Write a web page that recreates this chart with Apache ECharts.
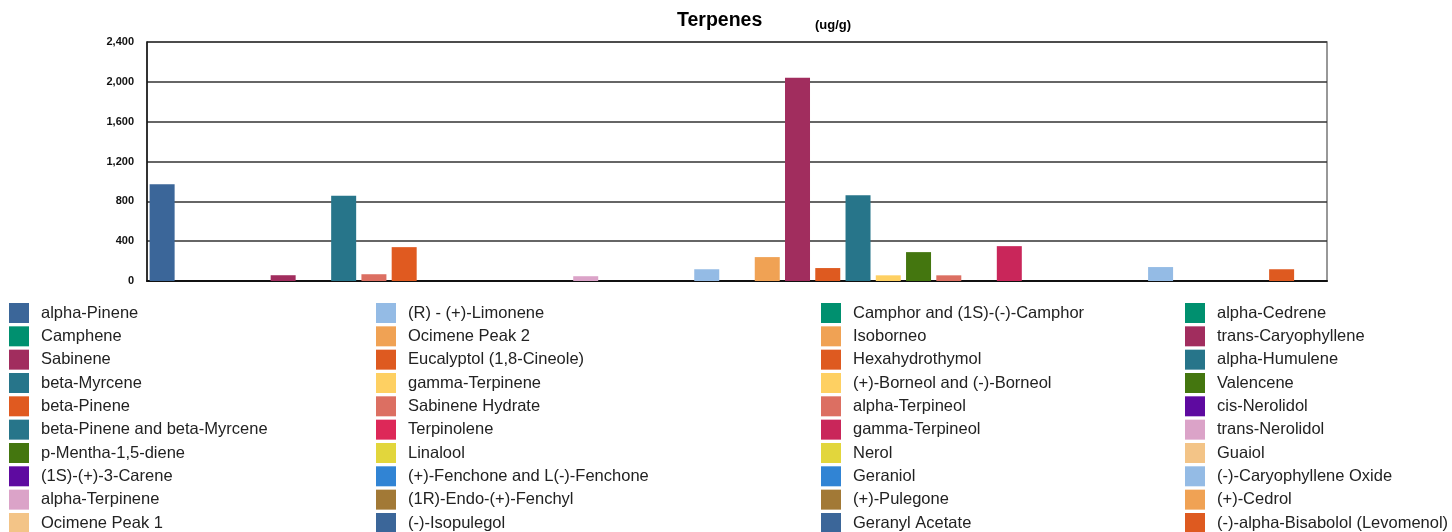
<!DOCTYPE html>
<html>
<head>
<meta charset="utf-8">
<title>Terpenes</title>
<script src="https://cdn.jsdelivr.net/npm/echarts@6/dist/echarts.min.js"></script>
<style>
    html, body { margin: 0; padding: 0; background: #fff; }
    #chart { width: 1452px; height: 532px; }
</style>
</head>
<body>
<div id="chart"></div>
<script>
// x-axis order of the bars (one slot per compound, labels hidden)
const categories = [
    'alpha-Pinene', 'Camphene', 'Eucalyptol (1,8-Cineole)', 'gamma-Terpinene', 'Sabinene',
    'p-Mentha-1,5-diene', 'beta-Myrcene', 'Sabinene Hydrate', 'beta-Pinene', 'Terpinolene',
    '(1S)-(+)-3-Carene', 'Linalool', 'Ocimene Peak 1', '(+)-Fenchone and L(-)-Fenchone', 'alpha-Terpinene',
    '(1R)-Endo-(+)-Fenchyl', 'Ocimene Peak 2', '(-)-Isopulegol', '(R) - (+)-Limonene', 'Camphor and (1S)-(-)-Camphor',
    'Isoborneo', 'trans-Caryophyllene', 'Hexahydrothymol', 'alpha-Humulene', '(+)-Borneol and (-)-Borneol',
    'Valencene', 'alpha-Terpineol', 'cis-Nerolidol', 'gamma-Terpineol', 'trans-Nerolidol',
    'Nerol', 'Guaiol', 'Geraniol', '(-)-Caryophyllene Oxide', '(+)-Pulegone',
    '(+)-Cedrol', 'Geranyl Acetate', '(-)-alpha-Bisabolol (Levomenol)', 'alpha-Cedrene'
];

// ug/g, same order as categories
const values = [
    972, 0, 0, 0, 58,
    0, 855, 68, 340, 0,
    0, 0, 0, 0, 48,
    0, 0, 0, 118, 0,
    240, 2040, 130, 862, 57,
    290, 57, 0, 350, 0,
    0, 0, 0, 140, 0,
    0, 0, 118, 0
];

const yTicks = [0, 400, 800, 1200, 1600, 2000, 2400];

// legend, column by column
const legendCol1 = ['alpha-Pinene', 'Camphene', 'Sabinene', 'beta-Myrcene', 'beta-Pinene',
    'beta-Pinene and beta-Myrcene', 'p-Mentha-1,5-diene', '(1S)-(+)-3-Carene', 'alpha-Terpinene', 'Ocimene Peak 1'];
const legendCol2 = ['(R) - (+)-Limonene', 'Ocimene Peak 2', 'Eucalyptol (1,8-Cineole)', 'gamma-Terpinene', 'Sabinene Hydrate',
    'Terpinolene', 'Linalool', '(+)-Fenchone and L(-)-Fenchone', '(1R)-Endo-(+)-Fenchyl', '(-)-Isopulegol'];
const legendCol3 = ['Camphor and (1S)-(-)-Camphor', 'Isoborneo', 'Hexahydrothymol', '(+)-Borneol and (-)-Borneol', 'alpha-Terpineol',
    'gamma-Terpineol', 'Nerol', 'Geraniol', '(+)-Pulegone', 'Geranyl Acetate'];
const legendCol4 = ['alpha-Cedrene', 'trans-Caryophyllene', 'alpha-Humulene', 'Valencene', 'cis-Nerolidol',
    'trans-Nerolidol', 'Guaiol', '(-)-Caryophyllene Oxide', '(+)-Cedrol', '(-)-alpha-Bisabolol (Levomenol)'];

const colorsCol1 = ['#3b6699', '#00906f', '#a12d5e', '#27758a', '#e05a20', '#27758a', '#44760f', '#5e0aa0', '#dba3c8', '#f3c487'];
const colorsCol2 = ['#94bbe5', '#f0a254', '#de5a20', '#fed062', '#dc6f62', '#dd2858', '#e2d63c', '#3184d4', '#a27936', '#3b6699'];
const colorsCol3 = ['#00906f', '#f0a254', '#de5a20', '#fed062', '#dc6f62', '#c9265a', '#e2d63c', '#3184d4', '#a27936', '#3b6699'];
const colorsCol4 = ['#00906f', '#a12d5e', '#27758a', '#44760f', '#5e0aa0', '#dba3c8', '#f3c487', '#94bbe5', '#f0a254', '#de5a20'];

const FONT = '"Liberation Sans", Arial, sans-serif';

const chart = echarts.init(document.getElementById('chart'), null, { renderer: 'canvas' });

const names = [].concat(legendCol1, legendCol2, legendCol3, legendCol4);
const colors = [].concat(colorsCol1, colorsCol2, colorsCol3, colorsCol4);

// one series per compound, only its own slot carries a value
const series = names.map((name, i) => ({
    name: name,
    type: 'bar',
    stack: 'all',
    barWidth: 25,
    itemStyle: { color: colors[i] },
    data: categories.map((c, j) => (c === name ? values[j] : '-'))
}));

function legendAt(left, data) {
    return {
        orient: 'vertical',
        left: left,
        top: 303,
        height: 260,
        padding: 0,
        itemWidth: 20,
        itemHeight: 20,
        itemGap: 3.33,
        icon: 'rect',
        selectedMode: false,
        textStyle: { fontFamily: FONT, fontSize: 16.5, color: '#222', padding: [0, 0, 0, 7] },
        data: data
    };
}

const option = {
    animation: false,
    backgroundColor: '#fff',
    title: [
        {
            text: 'Terpenes',
            left: 677,
            top: 11,
            padding: 0,
            textStyle: { fontFamily: FONT, fontSize: 19.5, fontWeight: 'bold', color: '#000' }
        },
        {
            text: '(ug/g)',
            left: 815,
            top: 19,
            padding: 0,
            textStyle: { fontFamily: FONT, fontSize: 13, fontWeight: 'bold', color: '#000' }
        }
    ],
    legend: [
        legendAt(9, legendCol1),
        legendAt(376, legendCol2),
        legendAt(821, legendCol3),
        legendAt(1185, legendCol4)
    ],
    grid: {
        left: 147,
        right: 125,
        top: 42,
        bottom: 251,
        show: true,
        borderColor: '#777',
        borderWidth: 1.5
    },
    xAxis: {
        type: 'category',
        data: categories,
        axisLabel: { show: false },
        axisTick: { show: false },
        axisLine: { lineStyle: { color: '#111', width: 2 } }
    },
    yAxis: {
        type: 'value',
        min: yTicks[0],
        max: yTicks[yTicks.length - 1],
        interval: yTicks[1] - yTicks[0],
        axisLine: { show: true, lineStyle: { color: '#111', width: 1.5 } },
        axisTick: { show: false },
        axisLabel: {
            margin: 13,
            fontFamily: FONT,
            fontSize: 11,
            fontWeight: 'bold',
            color: '#111',
            formatter: v => v.toLocaleString('en-US')
        },
        splitLine: { lineStyle: { color: '#333', width: 1.5 } }
    },
    series: series
};

chart.setOption(option);
window.addEventListener('resize', () => chart.resize());
</script>
</body>
</html>
